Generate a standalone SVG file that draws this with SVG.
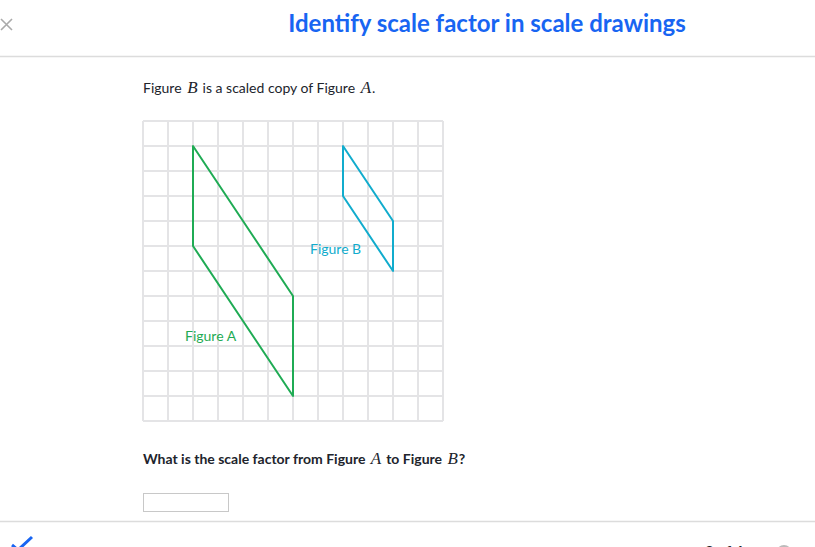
<svg xmlns="http://www.w3.org/2000/svg" width="815" height="547" viewBox="0 0 815 547">
<style>
.grid line{stroke:#e4e4e6;stroke-width:2}
.t{font-family:Lato,"Open Sans",sans-serif;fill:#21242c}
.m{font-family:"Liberation Serif",serif;font-style:italic}
.fa{fill:none;stroke:#1fab54;stroke-width:2;stroke-linejoin:round}
.fb{fill:none;stroke:#11accd;stroke-width:2;stroke-linejoin:round}
</style>
<rect width="815" height="547" fill="#fff"/>
<g id="header">
<path d="M1 19 L12 30 M12 19 L1 30" stroke="#aaa" stroke-width="1.6"/>
<text x="487" y="32" text-anchor="middle" font-family="Lato,'Open Sans',sans-serif" font-weight="bold" font-size="24" fill="#1865f2">Identify scale factor in scale drawings</text>
<line x1="0" y1="56.5" x2="815" y2="56.5" stroke="#dcdcdc" stroke-width="1.5"/>
</g>
<text class="t" x="143" y="93" font-size="14">Figure <tspan class="m" font-size="17" dx="2">B</tspan><tspan dx="5">is a scaled copy of Figure </tspan><tspan class="m" font-size="17" dx="2">A</tspan><tspan dx="1">.</tspan></text>
<g id="grid" class="grid">
<line x1="143" y1="121" x2="143" y2="421"/><line x1="168" y1="121" x2="168" y2="421"/><line x1="193" y1="121" x2="193" y2="421"/><line x1="218" y1="121" x2="218" y2="421"/><line x1="243" y1="121" x2="243" y2="421"/><line x1="268" y1="121" x2="268" y2="421"/><line x1="293" y1="121" x2="293" y2="421"/><line x1="318" y1="121" x2="318" y2="421"/><line x1="343" y1="121" x2="343" y2="421"/><line x1="368" y1="121" x2="368" y2="421"/><line x1="393" y1="121" x2="393" y2="421"/><line x1="418" y1="121" x2="418" y2="421"/><line x1="443" y1="121" x2="443" y2="421"/>
<line x1="143" y1="121" x2="443" y2="121"/><line x1="143" y1="146" x2="443" y2="146"/><line x1="143" y1="171" x2="443" y2="171"/><line x1="143" y1="196" x2="443" y2="196"/><line x1="143" y1="221" x2="443" y2="221"/><line x1="143" y1="246" x2="443" y2="246"/><line x1="143" y1="271" x2="443" y2="271"/><line x1="143" y1="296" x2="443" y2="296"/><line x1="143" y1="321" x2="443" y2="321"/><line x1="143" y1="346" x2="443" y2="346"/><line x1="143" y1="371" x2="443" y2="371"/><line x1="143" y1="396" x2="443" y2="396"/><line x1="143" y1="421" x2="443" y2="421"/>
</g>
<g id="figureA">
<polygon class="fa" points="193,146 193,246 293,396 293,296"/>
<text x="185" y="341" font-family="Lato,'Open Sans',sans-serif" font-size="14" fill="#1fab54">Figure A</text>
</g>
<g id="figureB">
<polygon class="fb" points="343,146 343,196 393,271 393,221"/>
<text x="310" y="254" font-family="Lato,'Open Sans',sans-serif" font-size="14" fill="#11accd">Figure B</text>
</g>
<text class="t" x="143" y="464" font-size="14" font-weight="bold">What is the scale factor from Figure <tspan class="m" font-size="17" font-weight="normal" dx="2">A</tspan><tspan dx="5">to Figure </tspan><tspan class="m" font-size="17" font-weight="normal" dx="2">B</tspan><tspan dx="1">?</tspan></text>
<rect id="answer" x="143.5" y="493.5" width="85" height="18" fill="#fff" stroke="#c8c8c8" stroke-width="1"/>
<g id="footer">
<line x1="0" y1="521.5" x2="815" y2="521.5" stroke="#dcdcdc" stroke-width="1.5"/>
<path d="M12 545 L18 550 L32 537" fill="none" stroke="#1865f2" stroke-width="3"/>
<text x="705" y="557" font-family="Lato,'Open Sans',sans-serif" font-weight="bold" font-size="15" fill="#21242c">2 of 4</text>
<circle cx="784" cy="553" r="7" fill="none" stroke="#bbb" stroke-width="2"/>
</g>
</svg>
